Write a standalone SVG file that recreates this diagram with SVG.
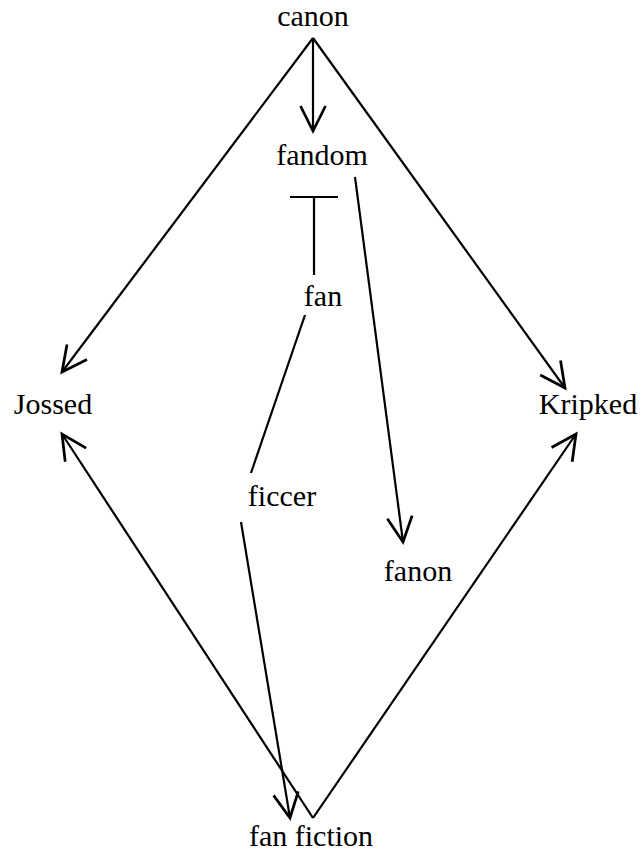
<svg xmlns="http://www.w3.org/2000/svg" width="643" height="858" viewBox="0 0 643 858">
  <style>
    .lbl { font-family: 'Liberation Serif', 'Times New Roman', Times, serif; font-size: 30px; fill: #000; text-anchor: middle; }
    .edge { fill: none; stroke: #000; stroke-width: 2.2; }
  </style>
  <defs>
    <!-- open V arrowhead -->
    <marker id="vee" markerUnits="userSpaceOnUse" markerWidth="30" markerHeight="30" refX="0" refY="0" viewBox="-22 -12 24 24" orient="auto" overflow="visible">
      <path d="M-20,-10 L0,0 L-20,10" fill="none" stroke="#000" stroke-width="2.2"/>
    </marker>
    <!-- flat bar (tee) arrowhead -->
    <marker id="tee" markerUnits="userSpaceOnUse" markerWidth="50" markerHeight="50" refX="0" refY="0" viewBox="-2 -25 4 50" orient="auto" overflow="visible">
      <path d="M0,-24 L0,24" fill="none" stroke="#000" stroke-width="2.2"/>
    </marker>
  </defs>

  <g id="edges">
    <path class="edge" d="M313,38 L313,131" marker-end="url(#vee)"/>
    <path class="edge" d="M313,38 L62,372" marker-end="url(#vee)"/>
    <path class="edge" d="M313,38 L565,388" marker-end="url(#vee)"/>
    <path class="edge" d="M314,275 L314,197" marker-end="url(#tee)"/>
    <path class="edge" d="M355,177 L403,542" marker-end="url(#vee)"/>
    <path class="edge" d="M305,315 L251,473"/>
    <path class="edge" d="M241,522 L290,818" marker-end="url(#vee)"/>
    <path class="edge" d="M313,818 L62,434" marker-end="url(#vee)"/>
    <path class="edge" d="M313,818 L576,434" marker-end="url(#vee)"/>
  </g>

  <g id="canon"><text class="lbl" x="313" y="26">canon</text></g>
  <g id="fandom"><text class="lbl" x="322" y="165">fandom</text></g>
  <g id="fan"><text class="lbl" x="323" y="306">fan</text></g>
  <g id="Jossed"><text class="lbl" x="53" y="414">Jossed</text></g>
  <g id="Kripked"><text class="lbl" x="588" y="414">Kripked</text></g>
  <g id="ficcer"><text class="lbl" x="282" y="506">ficcer</text></g>
  <g id="fanon"><text class="lbl" x="418" y="581">fanon</text></g>
  <g id="fan_fiction"><text class="lbl" x="311" y="846">fan fiction</text></g>
</svg>
